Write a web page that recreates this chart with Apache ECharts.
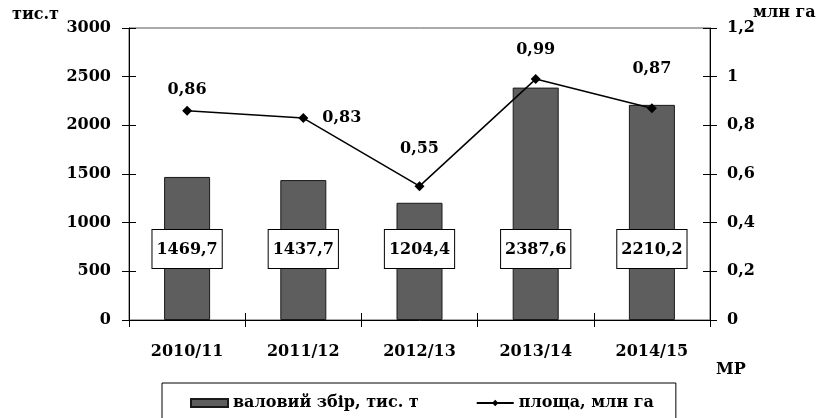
<!DOCTYPE html>
<html>
<head>
<meta charset="utf-8">
<script src="https://cdn.jsdelivr.net/npm/echarts@6/dist/echarts.min.js"></script>
<style>
  html, body { margin: 0; padding: 0; background: #fff; }
  #main { width: 816px; height: 418px; }
</style>
</head>
<body>
<div id="main"></div>
<script>
// дані
var categories = ['2010/11', '2011/12', '2012/13', '2013/14', '2014/15'];
var harvest = [1469.7, 1437.7, 1204.4, 2387.6, 2210.2];   // валовий збір, тис. т
var area = [0.86, 0.83, 0.55, 0.99, 0.87];                // площа, млн га

var FONT = 'DejaVu Serif';
var comma = function (v, d) { return v.toFixed(d).replace('.', ','); };

var myChart = echarts.init(document.getElementById('main'));

// куди ставити підписи лінії
var linePos = [['top', 8], ['right', 14], ['top', 24], ['top', 16], ['top', 26]];

var txt = { fontFamily: FONT, fontWeight: 'bold', fontSize: 16, color: '#000' };

option = {
  animation: false,
  textStyle: { fontFamily: FONT },
  grid: { left: 129, right: 106, top: 28, bottom: 98, show: true, borderColor: '#555', borderWidth: 1 },
  legend: {
    left: 162, top: 383,
    padding: [12, 22, 14, 28],
    borderColor: '#000', borderWidth: 1,
    itemWidth: 37, itemHeight: 8, itemGap: 57,
    textStyle: { fontFamily: FONT, fontWeight: 'bold', fontSize: 16, color: '#000' },
    data: [
      { name: 'валовий збір, тис. т', icon: 'rect' },
      { name: 'площа, млн га' }
    ]
  },
  graphic: [
    { type: 'text', left: 12, top: 7, style: Object.assign({ text: 'тис.т' }, txt) },
    { type: 'text', left: 753, top: 5, style: Object.assign({ text: 'млн га' }, txt) },
    { type: 'text', left: 716, top: 362, style: Object.assign({ text: 'МР' }, txt) }
  ],
  xAxis: [
    {
      type: 'category', data: categories,
      axisLine: { lineStyle: { color: '#000', width: 1 } },
      axisTick: { show: true, length: 7, lineStyle: { color: '#000' } },
      axisLabel: { margin: 24, fontFamily: FONT, fontWeight: 'bold', fontSize: 16, color: '#000' }
    },
    {
      type: 'category', data: categories, position: 'bottom',
      axisLine: { show: false },
      axisTick: { show: true, inside: true, length: 7, lineStyle: { color: '#000' } },
      axisLabel: { show: false }
    }
  ],
  yAxis: [
    {
      type: 'value', min: 0, max: 3000, interval: 500, position: 'left',
      splitLine: { show: false },
      axisLine: { show: true, lineStyle: { color: '#000' } },
      axisTick: { show: true, length: 7, lineStyle: { color: '#000' } },
      axisLabel: {
        margin: 18, fontFamily: FONT, fontWeight: 'bold', fontSize: 16, color: '#000',
        formatter: function (v) { return String(v); }
      }
    },
    {
      type: 'value', min: 0, max: 1.2, interval: 0.2, position: 'right',
      splitLine: { show: false },
      axisLine: { show: true, lineStyle: { color: '#000' } },
      axisTick: { show: true, length: 7, lineStyle: { color: '#000' } },
      axisLabel: {
        margin: 17, fontFamily: FONT, fontWeight: 'bold', fontSize: 16, color: '#000',
        formatter: function (v) { return String(Math.round(v * 10) / 10).replace('.', ','); }
      }
    },
    {
      type: 'value', min: 0, max: 3000, interval: 500, position: 'left',
      splitLine: { show: false }, axisLine: { show: false }, axisLabel: { show: false },
      axisTick: { show: true, inside: true, length: 7, lineStyle: { color: '#000' } }
    },
    {
      type: 'value', min: 0, max: 1.2, interval: 0.2, position: 'right',
      splitLine: { show: false }, axisLine: { show: false }, axisLabel: { show: false },
      axisTick: { show: true, inside: true, length: 7, lineStyle: { color: '#000' } }
    }
  ],
  series: [
    {
      name: 'валовий збір, тис. т',
      type: 'bar',
      yAxisIndex: 0,
      barWidth: 46,
      itemStyle: { color: '#5e5e5e', borderColor: '#1a1a1a', borderWidth: 1 },
      label: {
        show: true, position: 'insideBottom', distance: 52,
        backgroundColor: '#fff', borderColor: '#000', borderWidth: 1,
        padding: [12, 4, 10, 4],
        fontFamily: FONT, fontWeight: 'bold', fontSize: 16, color: '#000',
        formatter: function (p) { return comma(p.value, 1); }
      },
      data: harvest
    },
    {
      name: 'площа, млн га',
      type: 'line',
      yAxisIndex: 1,
      symbol: 'diamond', symbolSize: 10,
      lineStyle: { color: '#000', width: 1.5 },
      itemStyle: { color: '#000' },
      label: {
        show: true, fontFamily: FONT, fontWeight: 'bold', fontSize: 16, color: '#000',
        formatter: function (p) { return comma(p.value, 2); }
      },
      data: area.map(function (v, i) {
        return { value: v, label: { position: linePos[i][0], distance: linePos[i][1] } };
      })
    }
  ]
};

myChart.setOption(option);
</script>
</body>
</html>
